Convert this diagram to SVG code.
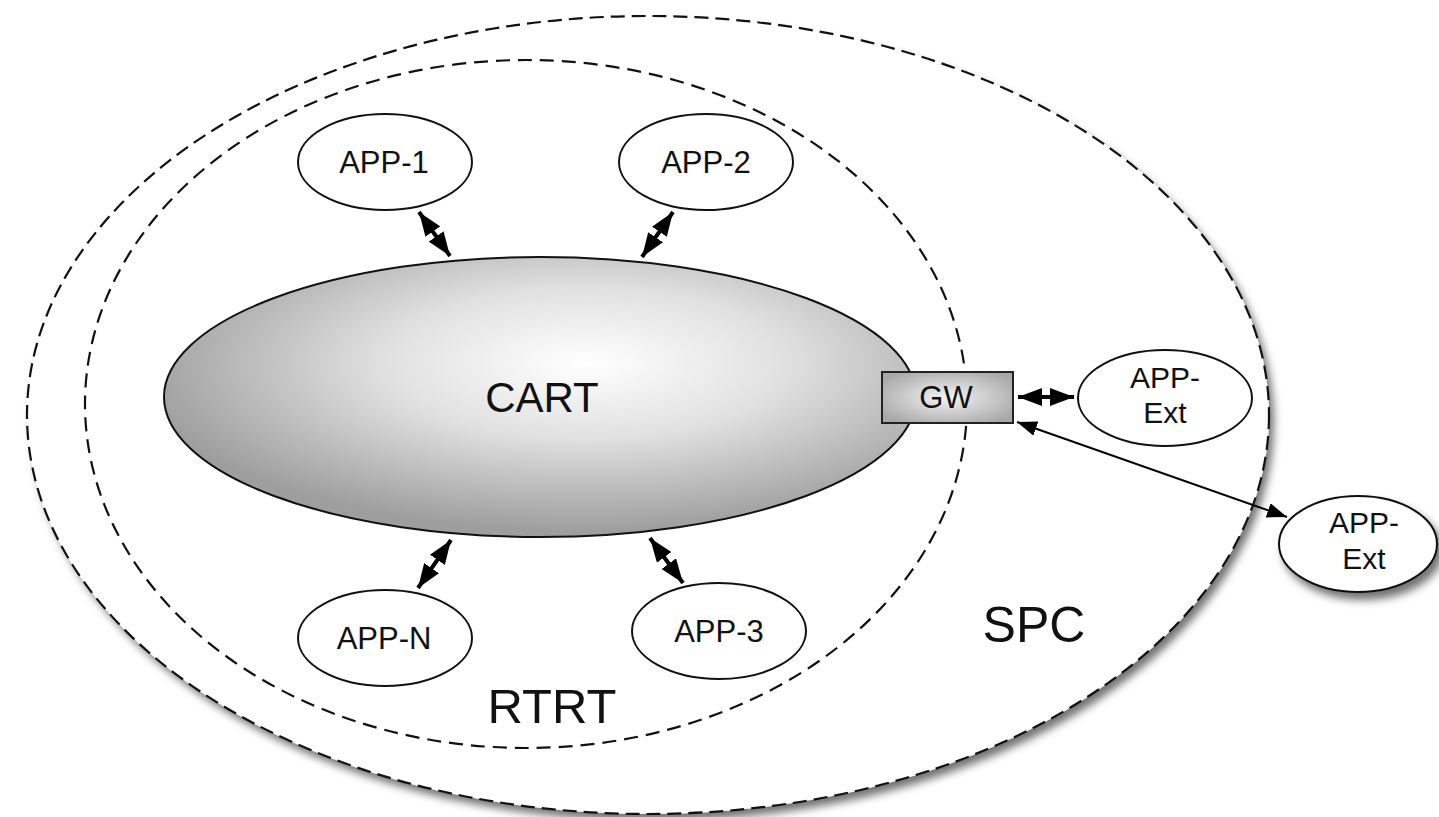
<svg xmlns="http://www.w3.org/2000/svg" width="1439" height="817" viewBox="0 0 1439 817">
  <style>
    .lbl { font-family: "Liberation Sans", Arial, sans-serif; fill: #111; text-anchor: middle; }
    .app { fill: #fff; stroke: #111; stroke-width: 2; }
    .dash { fill: none; stroke: #111; stroke-width: 2.2; }
    .conn { stroke: #000; fill: none; }
    .bold { stroke-width: 4; }
  </style>
  <defs>
    <filter id="shadow" x="-10%" y="-10%" width="125%" height="130%">
      <feDropShadow dx="5" dy="7" stdDeviation="4" flood-color="#000" flood-opacity="0.55"/>
    </filter>
    <radialGradient id="cartGrad" cx="0.56" cy="0.38" r="0.6">
      <stop offset="0" stop-color="#ffffff"/>
      <stop offset="0.45" stop-color="#e0e0e0"/>
      <stop offset="1" stop-color="#9e9e9e"/>
    </radialGradient>
    <radialGradient id="gwGrad" cx="0.5" cy="0.5" r="0.6">
      <stop offset="0" stop-color="#f4f4f4"/>
      <stop offset="1" stop-color="#a8a8a8"/>
    </radialGradient>
    <marker id="ah" viewBox="0 0 24 18" refX="24" refY="9" markerWidth="24" markerHeight="18" markerUnits="userSpaceOnUse" orient="auto-start-reverse">
      <path d="M0,0 L24,9 L0,18 z" fill="#000"/>
    </marker>
    <marker id="ahs" viewBox="0 0 20 15" refX="20" refY="7.5" markerWidth="20" markerHeight="15" markerUnits="userSpaceOnUse" orient="auto-start-reverse">
      <path d="M0,0 L20,7.5 L0,15 z" fill="#000"/>
    </marker>
  </defs>

  <g id="SPC">
    <ellipse cx="648" cy="415" rx="621" ry="399" fill="#fff" filter="url(#shadow)"/>
    <ellipse class="dash" cx="648" cy="415" rx="621" ry="399" stroke-dasharray="14 7"/>
    <text class="lbl" x="1034" y="642" font-size="50">SPC</text>
  </g>

  <g id="RTRT">
    <ellipse class="dash" cx="526" cy="404" rx="441" ry="344" stroke-dasharray="14 8" stroke-width="1.8"/>
    <text class="lbl" x="552" y="723" font-size="49">RTRT</text>
  </g>

  <g id="CART">
    <ellipse cx="540" cy="397" rx="376" ry="140" fill="url(#cartGrad)" stroke="#111" stroke-width="2"/>
    <text class="lbl" x="542" y="412" font-size="42">CART</text>
  </g>

  <g id="APP-1">
    <ellipse class="app" cx="385" cy="162" rx="87" ry="48"/>
    <text class="lbl" x="384" y="173" font-size="31">APP-1</text>
  </g>
  <g id="APP-2">
    <ellipse class="app" cx="706" cy="162" rx="87" ry="48"/>
    <text class="lbl" x="706" y="173" font-size="31">APP-2</text>
  </g>
  <g id="APP-N">
    <ellipse class="app" cx="385" cy="638" rx="87" ry="48"/>
    <text class="lbl" x="384" y="649" font-size="31">APP-N</text>
  </g>
  <g id="APP-3">
    <ellipse class="app" cx="719" cy="631" rx="87" ry="48"/>
    <text class="lbl" x="719" y="642" font-size="31">APP-3</text>
  </g>

  <g id="GW">
    <rect x="882" y="372" width="131" height="51" fill="url(#gwGrad)" stroke="#222" stroke-width="2"/>
    <text class="lbl" x="946" y="408" font-size="31">GW</text>
  </g>

  <g id="APP-Ext-1">
    <ellipse class="app" cx="1165" cy="398" rx="87" ry="48"/>
    <text class="lbl" x="1165" y="388" font-size="30">APP-</text>
    <text class="lbl" x="1165" y="423" font-size="30">Ext</text>
  </g>

  <g id="APP-Ext-2">
    <ellipse class="app" cx="1358" cy="544" rx="79" ry="48" filter="url(#shadow)"/>
    <text class="lbl" x="1364" y="533" font-size="30">APP-</text>
    <text class="lbl" x="1364" y="569" font-size="30">Ext</text>
  </g>

  <g id="connectors">
    <line class="conn bold" x1="419" y1="212" x2="450" y2="256" marker-start="url(#ah)" marker-end="url(#ah)"/>
    <line class="conn bold" x1="673" y1="212" x2="642" y2="257" marker-start="url(#ah)" marker-end="url(#ah)"/>
    <line class="conn bold" x1="418" y1="588" x2="451" y2="540" marker-start="url(#ah)" marker-end="url(#ah)"/>
    <line class="conn bold" x1="650" y1="538" x2="683" y2="583" marker-start="url(#ah)" marker-end="url(#ah)"/>
    <line class="conn bold" x1="1018" y1="397" x2="1074" y2="397" marker-start="url(#ah)" marker-end="url(#ah)"/>
    <line class="conn" x1="1017" y1="422" x2="1287" y2="517" stroke-width="2" marker-start="url(#ahs)" marker-end="url(#ahs)"/>
  </g>
</svg>
